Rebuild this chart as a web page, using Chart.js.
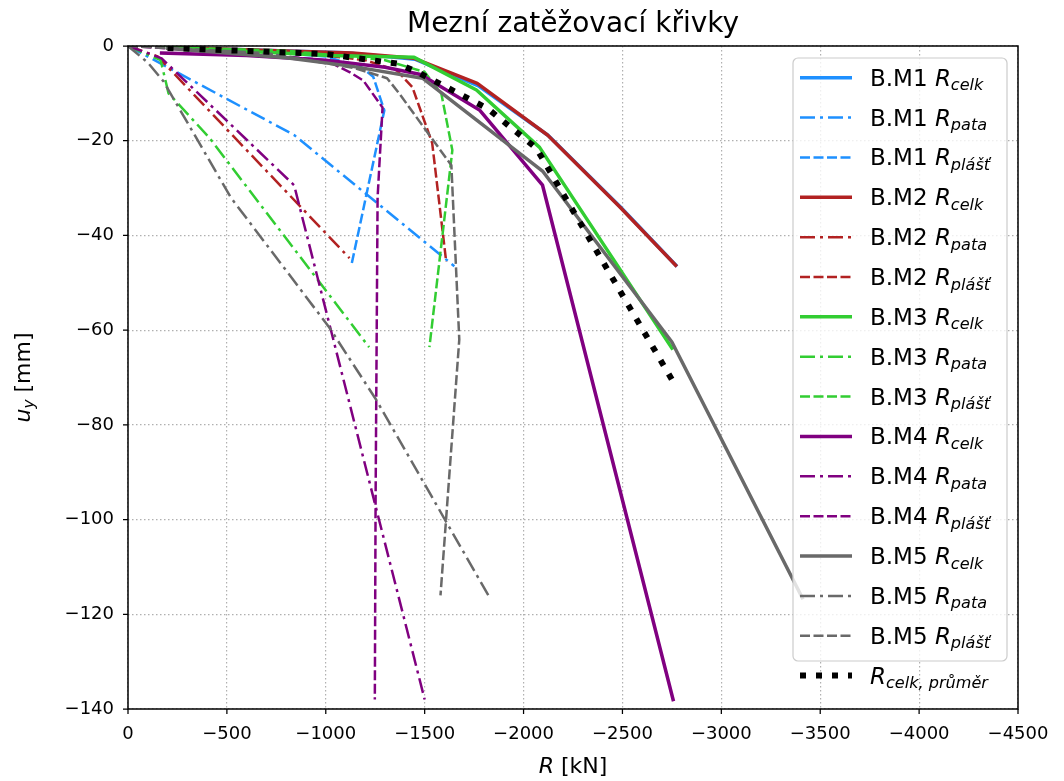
<!DOCTYPE html>
<html lang="cs">
<head>
<meta charset="UTF-8">
<title>Mezní zatěžovací křivky</title>
<style>
  html, body { margin: 0; padding: 0; background: #fff; }
</style>
</head>
<body>
<canvas id="myChart" width="1064" height="781"></canvas>

<script src="https://cdn.jsdelivr.net/npm/chart.js"></script>
<script>
// body krivek [R kN, u_y mm]
const m1Celk = [[-200,-0.3],[-1100,-1.4],[-1450,-2.8],[-1775,-8.5],[-2125,-18.9],[-2490,-34.0],[-2770,-46.3]]
const m1Pata = [[0,0],[-840,-18.8],[-1650,-46.5]]
const m1Plast = [[0,0],[-600,-0.9],[-1000,-2.2],[-1180,-4.5],[-1240,-6.5],[-1296,-13.6],[-1130,-46.2]]

const m2Celk = [[-200,-0.3],[-1135,-1.5],[-1447,-2.6],[-1766,-7.9],[-2121,-18.8],[-2487,-34.0],[-2769,-46.3]]
const m2Pata = [[0,0],[-150,-2.2],[-500,-17.6],[-860,-33.4],[-1120,-44.8]]
const m2Plast = [[0,0],[-800,-1.0],[-1200,-3.0],[-1360,-5.2],[-1438,-8.7],[-1538,-20.5],[-1609,-45.6]]

const m3Celk = [[-200,-0.3],[-1016,-2.0],[-1447,-2.4],[-1762,-9.3],[-2081,-21.4],[-2750,-63.8]]
const m3Pata = [[0,0],[-165,-3.0],[-205,-10.0],[-410,-19.3],[-1219,-63.6]]
const m3Plast = [[0,0],[-800,-1.0],[-1300,-3.0],[-1500,-5.5],[-1584,-10.0],[-1640,-22.0],[-1524,-63.6]]

const m4Celk = [[-170,-1.5],[-600,-2.0],[-1000,-3.0],[-1300,-4.5],[-1480,-6.0],[-1777,-13.5],[-2096,-29.4],[-2756,-138]]
const m4Pata = [[0,0],[-170,-2.6],[-840,-29.4],[-1500,-138]]
const m4Plast = [[0,0],[-600,-1.5],[-1000,-3.0],[-1120,-5.5],[-1190,-7.3],[-1287,-13.0],[-1262,-32.0],[-1252,-95.0],[-1248,-138]]

const m5Celk = [[-200,-0.5],[-800,-2.5],[-1135,-4.3],[-1489,-6.8],[-2096,-26.4],[-2750,-62.5],[-3409,-116.5]]
const m5Pata = [[0,0],[-100,-3.5],[-180,-7.5],[-520,-32.0],[-1017,-59.4],[-1255,-74.7],[-1829,-116.5]]
const m5Plast = [[0,0],[-700,-1.5],[-1150,-4.7],[-1310,-6.8],[-1371,-10.0],[-1635,-25.2],[-1675,-62.0],[-1580,-116.0]]

const celkPrumer = [[-200,-0.4],[-1000,-1.7],[-1360,-3.7],[-1463,-5.5],[-1818,-13.2],[-2065,-21.6],[-2751,-70.5]]

const xTicks = [0,-500,-1000,-1500,-2000,-2500,-3000,-3500,-4000,-4500]
const yTicks = [0,-20,-40,-60,-80,-100,-120,-140]

const colors = { M1: '#1e90ff', M2: '#b22222', M3: '#32cd32', M4: '#800080', M5: '#696969' }

// styly car (jako matplotlib '-', '-.', '--', ':')
const lineStyles = {
  celk:  { width: 3.5, dash: [] },
  pata:  { width: 2.5, dash: [15, 5, 3, 5] },
  plast: { width: 2.5, dash: [10, 3.5] },
  prumer: { width: 6, dash: [6, 10] }
}

const series = [
  { name: 'B.M1 ', sub: 'celk',  data: m1Celk,  color: colors.M1, style: 'celk' },
  { name: 'B.M1 ', sub: 'pata',  data: m1Pata,  color: colors.M1, style: 'pata' },
  { name: 'B.M1 ', sub: 'plášť', data: m1Plast, color: colors.M1, style: 'plast' },
  { name: 'B.M2 ', sub: 'celk',  data: m2Celk,  color: colors.M2, style: 'celk' },
  { name: 'B.M2 ', sub: 'pata',  data: m2Pata,  color: colors.M2, style: 'pata' },
  { name: 'B.M2 ', sub: 'plášť', data: m2Plast, color: colors.M2, style: 'plast' },
  { name: 'B.M3 ', sub: 'celk',  data: m3Celk,  color: colors.M3, style: 'celk' },
  { name: 'B.M3 ', sub: 'pata',  data: m3Pata,  color: colors.M3, style: 'pata' },
  { name: 'B.M3 ', sub: 'plášť', data: m3Plast, color: colors.M3, style: 'plast' },
  { name: 'B.M4 ', sub: 'celk',  data: m4Celk,  color: colors.M4, style: 'celk' },
  { name: 'B.M4 ', sub: 'pata',  data: m4Pata,  color: colors.M4, style: 'pata' },
  { name: 'B.M4 ', sub: 'plášť', data: m4Plast, color: colors.M4, style: 'plast' },
  { name: 'B.M5 ', sub: 'celk',  data: m5Celk,  color: colors.M5, style: 'celk' },
  { name: 'B.M5 ', sub: 'pata',  data: m5Pata,  color: colors.M5, style: 'pata' },
  { name: 'B.M5 ', sub: 'plášť', data: m5Plast, color: colors.M5, style: 'plast' },
  { name: '',      sub: 'celk, průměr', data: celkPrumer, color: '#000000', style: 'prumer' }
]

const minus = v => (v < 0 ? '\u2212' + Math.abs(v) : String(v))
const FONT = '"DejaVu Sans"'

// text typu "B.M1 R_celk"
function drawRLabel(ctx, x, y, name, sub, size) {
  ctx.textBaseline = 'alphabetic'
  ctx.textAlign = 'left'
  if (name) {
    ctx.font = size + 'px ' + FONT
    ctx.fillText(name, x, y)
    x += ctx.measureText(name).width
  }
  ctx.font = 'italic ' + size + 'px ' + FONT
  ctx.fillText('R', x, y)
  x += ctx.measureText('R').width
  ctx.font = 'italic ' + (size * 0.7) + 'px ' + FONT
  ctx.fillText(sub, x, y + size * 0.2)
}

const legendPlugin = {
  id: 'mplLegend',
  afterDatasetsDraw(chart) {
    const ctx = chart.ctx
    const bx = 793, by = 58, bw = 214, bh = 603
    ctx.save()
    ctx.beginPath()
    ctx.roundRect(bx, by, bw, bh, 5)
    ctx.fillStyle = 'rgba(255,255,255,0.8)'
    ctx.fill()
    ctx.strokeStyle = '#cccccc'
    ctx.lineWidth = 1.2
    ctx.stroke()
    series.forEach((s, i) => {
      const y = 77.7 + i * 39.86
      const st = lineStyles[s.style]
      ctx.beginPath()
      ctx.setLineDash(st.dash)
      ctx.lineWidth = st.width
      ctx.strokeStyle = s.color
      ctx.lineCap = 'butt'
      ctx.moveTo(800, y)
      ctx.lineTo(852, y)
      ctx.stroke()
      ctx.setLineDash([])
      ctx.fillStyle = '#000'
      drawRLabel(ctx, 870, y + 8, s.name, s.sub, 23)
    })
    ctx.restore()
  }
}

const framePlugin = {
  id: 'frame',
  afterDraw(chart) {
    const ctx = chart.ctx
    const a = chart.chartArea
    const sx = chart.scales.x, sy = chart.scales.y
    const cx = (a.left + a.right) / 2
    ctx.save()
    ctx.strokeStyle = '#000'
    ctx.lineWidth = 1.5
    ctx.setLineDash([])
    ctx.strokeRect(a.left, a.top, a.right - a.left, a.bottom - a.top)
    // ticky ven
    ctx.lineWidth = 1.25
    ctx.beginPath()
    xTicks.forEach(v => {
      const px = sx.getPixelForValue(v)
      ctx.moveTo(px, a.bottom)
      ctx.lineTo(px, a.bottom + 5)
    })
    yTicks.forEach(v => {
      const py = sy.getPixelForValue(v)
      ctx.moveTo(a.left, py)
      ctx.lineTo(a.left - 5, py)
    })
    ctx.stroke()

    ctx.fillStyle = '#000'
    // nadpis nad osami
    ctx.textAlign = 'center'
    ctx.textBaseline = 'alphabetic'
    ctx.font = '28px ' + FONT
    ctx.fillText('Mezní zatěžovací křivky', cx, 32)

    // popisky os
    const size = 22
    ctx.font = 'italic ' + size + 'px ' + FONT
    const wR = ctx.measureText('R').width
    ctx.font = size + 'px ' + FONT
    const wRest = ctx.measureText(' [kN]').width
    let x0 = cx - (wR + wRest) / 2
    ctx.textAlign = 'left'
    ctx.font = 'italic ' + size + 'px ' + FONT
    ctx.fillText('R', x0, 773)
    ctx.font = size + 'px ' + FONT
    ctx.fillText(' [kN]', x0 + wR, 773)

    ctx.translate(30, (a.top + a.bottom) / 2)
    ctx.rotate(-Math.PI / 2)
    ctx.font = 'italic ' + size + 'px ' + FONT
    const wu = ctx.measureText('u').width
    ctx.font = 'italic ' + (size * 0.7) + 'px ' + FONT
    const wy = ctx.measureText('y').width
    ctx.font = size + 'px ' + FONT
    const wmm = ctx.measureText(' [mm]').width
    let t = -(wu + wy + wmm) / 2
    ctx.font = 'italic ' + size + 'px ' + FONT
    ctx.fillText('u', t, 0)
    ctx.font = 'italic ' + (size * 0.7) + 'px ' + FONT
    ctx.fillText('y', t + wu, size * 0.2)
    ctx.font = size + 'px ' + FONT
    ctx.fillText(' [mm]', t + wu + wy, 0)
    ctx.restore()
  }
}

const datasets = series.map((s, i) => ({
  label: s.name + 'R ' + s.sub,
  data: s.data.map(p => ({ x: p[0], y: p[1] })),
  showLine: true,
  borderColor: s.color,
  backgroundColor: s.color,
  borderWidth: lineStyles[s.style].width,
  borderDash: lineStyles[s.style].dash,
  borderCapStyle: s.style === 'celk' ? 'square' : 'butt',
  borderJoinStyle: 'round',
  pointRadius: 0,
  tension: 0,
  order: series.length - i
}))

Chart.defaults.font.family = 'DejaVu Sans'
Chart.defaults.color = '#000'

new Chart(document.getElementById('myChart'), {
  type: 'scatter',
  data: { datasets },
  options: {
    responsive: false,
    animation: false,
    layout: { padding: { left: 0, right: 46, top: 46, bottom: 0 } },
    plugins: {
      legend: { display: false },
      tooltip: { enabled: false },
      title: { display: false }
    },
    scales: {
      x: {
        type: 'linear',
        min: -4500,
        max: 0,
        reverse: true,
        afterFit: s => { s.height = 72 },
        afterBuildTicks: s => { s.ticks = xTicks.map(v => ({ value: v })) },
        ticks: { callback: minus, font: { size: 18 }, padding: 15, maxRotation: 0, autoSkip: false },
        grid: { color: '#b0b0b0', lineWidth: 1.2, drawTicks: false },
        border: { display: false, dash: [1.5, 2.5] }
      },
      y: {
        type: 'linear',
        min: -140,
        max: 0,
        afterFit: s => { s.width = 128 },
        afterBuildTicks: s => { s.ticks = yTicks.map(v => ({ value: v })) },
        ticks: { callback: minus, font: { size: 18 }, padding: 14, autoSkip: false },
        grid: { color: '#b0b0b0', lineWidth: 1.2, drawTicks: false },
        border: { display: false, dash: [1.5, 2.5] }
      }
    }
  },
  plugins: [legendPlugin, framePlugin]
})
</script>
</body>
</html>
